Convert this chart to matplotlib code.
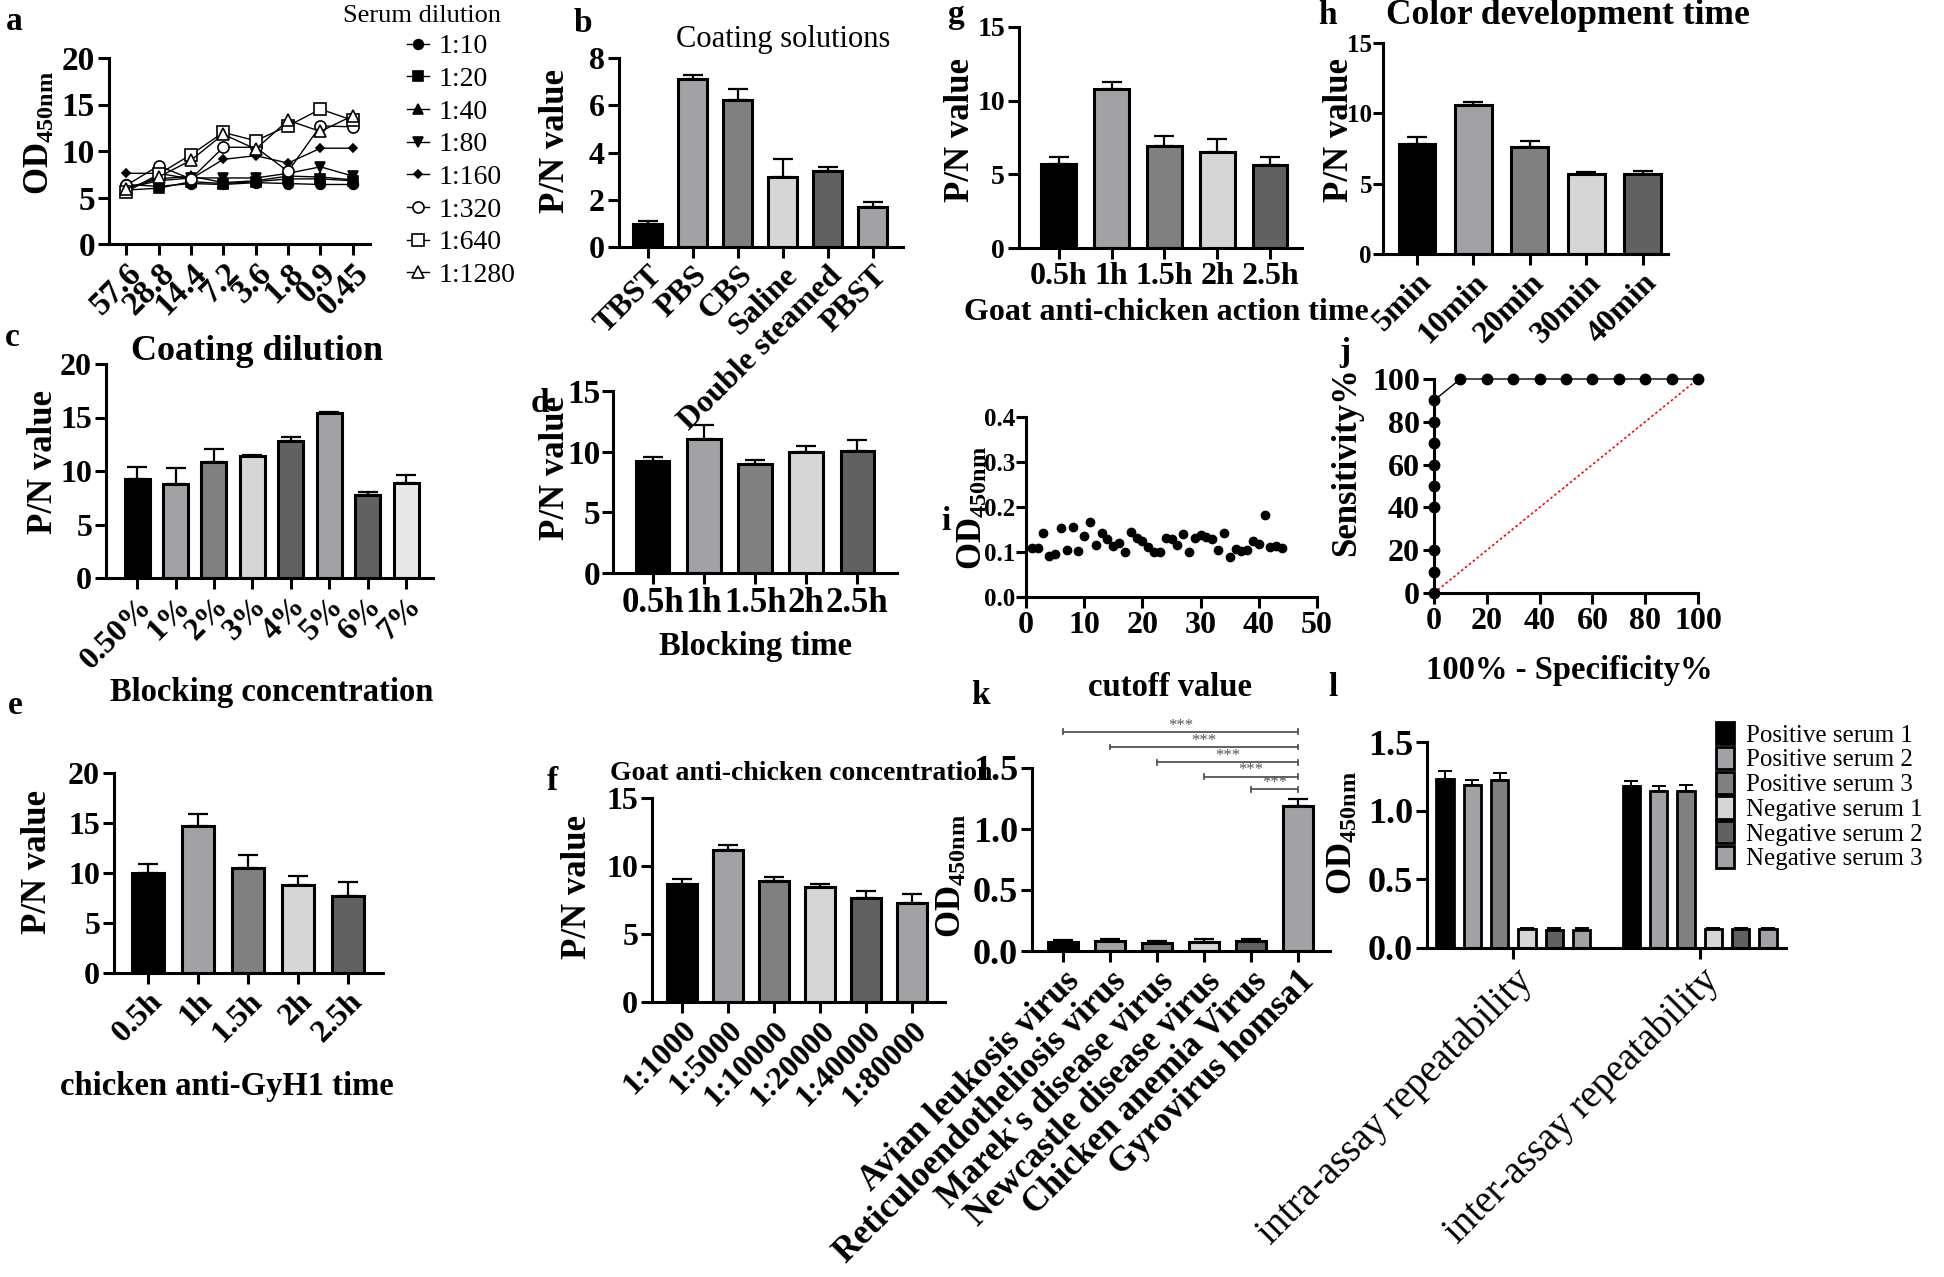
import numpy as np
import matplotlib
matplotlib.use('Agg')
import matplotlib.pyplot as plt

plt.rcParams['font.family'] = ['Liberation Serif', 'DejaVu Serif']
plt.rcParams['font.weight'] = 'bold'
plt.rcParams['mathtext.fontset'] = 'custom'
plt.rcParams['mathtext.rm'] = 'Liberation Serif:bold'
plt.rcParams['mathtext.it'] = 'Liberation Serif:bold'
plt.rcParams['mathtext.bf'] = 'Liberation Serif:bold'

# ---------------- data ----------------
a_x_labels = ['57.6', '28.8', '14.4', '7.2', '3.6', '1.8', '0.9', '0.45']
a_names = ['1:10', '1:20', '1:40', '1:80', '1:160', '1:320', '1:640', '1:1280']
a_1_10 = [6.4, 6.2, 6.5, 6.4, 6.6, 6.5, 6.4, 6.4]
a_1_20 = [5.8, 6.0, 6.7, 6.5, 6.7, 7.0, 7.0, 6.8]
a_1_40 = [6.0, 7.0, 7.3, 6.6, 6.8, 7.3, 7.2, 6.9]
a_1_80 = [6.0, 6.8, 7.1, 7.1, 7.1, 7.6, 8.3, 7.3]
a_1_160 = [7.6, 7.6, 7.0, 9.1, 9.5, 8.7, 10.3, 10.3]
a_1_320 = [6.3, 8.4, 7.0, 10.4, 10.4, 7.8, 12.7, 12.6]
a_1_640 = [5.6, 7.5, 9.6, 12.0, 11.1, 12.7, 14.5, 13.3]
a_1_1280 = [5.9, 7.2, 9.0, 11.8, 10.2, 13.3, 12.1, 13.8]

b_labels = ['TBST', 'PBS', 'CBS', 'Saline', 'Double steamed', 'PBST']
b_mean = [0.96, 7.12, 6.23, 2.95, 3.22, 1.70]
b_upper = [1.09, 7.27, 6.69, 3.71, 3.40, 1.90]

c_labels = ['0.50%', '1%', '2%', '3%', '4%', '5%', '6%', '7%']
c_mean = [9.25, 8.8, 10.85, 11.4, 12.85, 15.4, 7.8, 8.9]
c_upper = [10.4, 10.25, 12.1, 11.5, 13.15, 15.55, 8.0, 9.6]

d_labels = ['0.5h', '1h', '1.5h', '2h', '2.5h']
d_mean = [9.26, 11.07, 8.96, 9.97, 10.03]
d_upper = [9.6, 12.2, 9.34, 10.5, 11.0]

e_labels = ['0.5h', '1h', '1.5h', '2h', '2.5h']
e_mean = [10.0, 14.67, 10.5, 8.83, 7.73]
e_upper = [10.93, 15.93, 11.77, 9.67, 9.1]

f_labels = ['1:1000', '1:5000', '1:10000', '1:20000', '1:40000', '1:80000']
f_mean = [8.66, 11.14, 8.93, 8.43, 7.65, 7.3]
f_upper = [9.03, 11.53, 9.22, 8.68, 8.19, 7.94]

g_labels = ['0.5h', '1h', '1.5h', '2h', '2.5h']
g_mean = [5.7, 10.8, 6.9, 6.5, 5.6]
g_upper = [6.2, 11.3, 7.6, 7.4, 6.2]

h_labels = ['5min', '10min', '20min', '30min', '40min']
h_mean = [7.8, 10.6, 7.6, 5.7, 5.7]
h_upper = [8.3, 10.8, 8.0, 5.85, 5.9]

i_sample = list(range(1, 45))
i_od = [0.108, 0.108, 0.143, 0.092, 0.096, 0.153, 0.104, 0.155, 0.102, 0.135,
        0.167, 0.116, 0.143, 0.128, 0.113, 0.121, 0.101, 0.145, 0.131, 0.124,
        0.111, 0.101, 0.101, 0.131, 0.128, 0.116, 0.141, 0.099, 0.132, 0.138,
        0.133, 0.128, 0.104, 0.143, 0.090, 0.107, 0.102, 0.104, 0.124, 0.118,
        0.182, 0.111, 0.114, 0.110]

j_fpr = [0, 0, 0, 0, 0, 0, 0, 0, 0, 10, 20, 30, 40, 50, 60, 70, 80, 90, 100]
j_sens = [0, 10, 20, 40, 50, 60, 70, 80, 90, 100, 100, 100, 100, 100, 100, 100, 100, 100, 100]

k_labels = ['Avian leukosis virus', 'Reticuloendotheliosis virus', "Marek's disease virus",
            'Newcastle disease virus', 'Chicken anemia Virus', 'Gyrovirus homsa1']
k_mean = [0.071, 0.080, 0.066, 0.077, 0.085, 1.185]
k_upper = [0.088, 0.099, 0.082, 0.096, 0.101, 1.245]
k_sig_y = [1.796, 1.672, 1.546, 1.429, 1.327]

l_groups = ['intra-assay repeatability', 'inter-assay repeatability']
l_series = ['Positive serum 1', 'Positive serum 2', 'Positive serum 3',
            'Negative serum 1', 'Negative serum 2', 'Negative serum 3']
l_intra_mean = [1.233, 1.189, 1.223, 0.138, 0.133, 0.133]
l_intra_upper = [1.286, 1.226, 1.274, 0.146, 0.146, 0.146]
l_inter_mean = [1.177, 1.140, 1.140, 0.135, 0.135, 0.135]
l_inter_upper = [1.218, 1.180, 1.190, 0.142, 0.142, 0.142]

# ---------------- styles ----------------
BLK = '#000000'
G1 = '#a1a1a6'
G2 = '#808080'
G3 = '#d6d6d6'
G4 = '#616161'
G5 = '#e8e8e8'
pal6 = [BLK, G1, G2, G3, G4, G1]

W, H = 1944, 1277
fig = plt.figure(figsize=(W / 100, H / 100), dpi=100)


def ax_px(l, t, r, b):
    ax = fig.add_axes([l / W, 1 - b / H, (r - l) / W, (b - t) / H])
    ax.patch.set_visible(False)
    return ax


def ftext(x, y, s, size, weight='bold', rot=0, **kw):
    fig.text(x / W, 1 - y / H, s, ha=kw.pop('ha', 'center'), va=kw.pop('va', 'center'),
             fontsize=size, fontweight=weight, rotation=rot, **kw)


def style(ax, fs=23):
    for s in ['top', 'right']:
        ax.spines[s].set_visible(False)
    for s in ['left', 'bottom']:
        ax.spines[s].set_linewidth(2.2)
    ax.tick_params(axis='both', direction='out', length=8, width=2.2, labelsize=fs, pad=2)


def bars(ax, labels, mean, upper, colors, xlim, ylim, yticks, rot=True, width=0.65, fs=23):
    n = len(mean)
    x = np.arange(n)
    m = np.array(mean)
    u = np.array(upper)
    ax.errorbar(x, m, yerr=[np.zeros(n), u - m], fmt='none', ecolor='black',
                elinewidth=1.6, capsize=7, capthick=1.6, zorder=1)
    ax.bar(x, m, width=width, color=colors, edgecolor='black', linewidth=2.2, zorder=2)
    ax.set_xlim(*xlim)
    ax.set_ylim(*ylim)
    ax.set_yticks(yticks)
    ax.set_xticks(x)
    style(ax, fs)
    if rot:
        ax.set_xticklabels(labels, rotation=45, ha='right', va='top', rotation_mode='anchor')
    else:
        ax.set_xticklabels(labels)


OD = 'OD$_{\\mathrm{450nm}}$'

# ---------------- panel a ----------------
ax = ax_px(109, 58, 370, 244)
xa = np.arange(len(a_x_labels))
series = [a_1_10, a_1_20, a_1_40, a_1_80, a_1_160, a_1_320, a_1_640, a_1_1280]
mk = [('o', 7, 'black'), ('s', 7, 'black'), ('^', 7, 'black'), ('v', 7, 'black'),
      ('D', 4.5, 'black'), ('o', 8, 'white'), ('s', 8, 'white'), ('^', 8, 'white')]
handles = []
for s, (m, ms, fc), nm in zip(series, mk, a_names):
    ln, = ax.plot(xa, s, color='black', lw=1.0, marker=m, ms=ms, mfc=fc, mec='black',
                  mew=1.2, clip_on=False, label=nm)
    handles.append(ln)
ax.set_xlim(-0.53, 7.53)
ax.set_ylim(0, 20)
ax.set_yticks([0, 5, 10, 15, 20])
ax.set_xticks(xa)
style(ax, 24)
ax.set_xticklabels(a_x_labels, rotation=45, ha='right', va='top', rotation_mode='anchor')
fig.legend(handles, a_names, loc='upper left', bbox_to_anchor=(407 / W, 1 - 34 / H),
           frameon=False, prop={'family': 'Liberation Serif', 'weight': 'normal', 'size': 20},
           labelspacing=0.26, handlelength=0.8, handletextpad=0.35, borderpad=0, borderaxespad=0)
ftext(422, 16, 'Serum dilution', 19, weight='normal')
ftext(40, 133, OD, 25, rot=90)

# ---------------- panel b ----------------
ax = ax_px(619, 58, 903, 247)
bars(ax, b_labels, b_mean, b_upper, pal6, (-0.64, 5.67), (0, 8), [0, 2, 4, 6, 8])
ftext(783, 40, 'Coating solutions', 22, weight='normal')
ftext(555, 141, 'P/N value', 25, rot=90)

# ---------------- panel c ----------------
ax = ax_px(106, 364, 433, 578)
bars(ax, c_labels, c_mean, c_upper, [BLK, G1, G2, G3, G4, G1, G4, G5],
     (-0.81, 7.7), (0, 20), [0, 5, 10, 15, 20])
ftext(257, 352, 'Coating dilution', 26)
ftext(43, 462, 'P/N value', 25, rot=90)
ftext(272, 692, 'Blocking concentration', 23.5)

# ---------------- panel d ----------------
ax = ax_px(613, 391, 897, 573)
bars(ax, d_labels, d_mean, d_upper, [BLK, G1, G2, G3, G4], (-0.78, 4.78), (0, 15),
     [0, 5, 10, 15], rot=False, fs=25)
ax.tick_params(axis='y', labelsize=24, pad=1)
ftext(555, 468, 'P/N value', 25, rot=90)
ftext(755, 647, 'Blocking time', 23.5)

# ---------------- panel e ----------------
ax = ax_px(114, 773, 383, 973)
bars(ax, e_labels, e_mean, e_upper, [BLK, G1, G2, G3, G4], (-0.68, 4.7), (0, 20),
     [0, 5, 10, 15, 20])
ftext(38, 862, 'P/N value', 25, rot=90)
ftext(227, 1087, 'chicken anti-GyH1 time', 23.5)

# ---------------- panel f ----------------
ax = ax_px(652, 798, 945, 1002)
bars(ax, f_labels, f_mean, f_upper, pal6, (-0.65, 5.72), (0, 15), [0, 5, 10, 15])
ftext(801, 773, 'Goat anti-chicken concentration', 20)
ftext(577, 887, 'P/N value', 25, rot=90)

# ---------------- panel g ----------------
ax = ax_px(1019, 27, 1302, 248)
bars(ax, g_labels, g_mean, g_upper, [BLK, G1, G2, G3, G4], (-0.75, 4.6), (0, 15),
     [0, 5, 10, 15], rot=False)
ax.tick_params(axis='y', labelsize=20)
ftext(960, 130, 'P/N value', 25, rot=90)
ftext(1166, 312, 'Goat anti-chicken action time', 23)

# ---------------- panel h ----------------
ax = ax_px(1383, 43, 1668, 254)
bars(ax, h_labels, h_mean, h_upper, [BLK, G1, G2, G3, G4], (-0.6, 4.45), (0, 15),
     [0, 5, 10, 15])
ax.tick_params(axis='y', labelsize=18, pad=1, length=7)
ftext(1339, 130, 'P/N value', 25, rot=90)
ftext(1568, 15, 'Color development time', 25.5)

# ---------------- panel i ----------------
ax = ax_px(1026, 417, 1317, 597)
ax.plot(i_sample, i_od, 'o', color='black', ms=6, clip_on=False)
ax.set_xlim(0, 50)
ax.set_ylim(0, 0.4)
ax.set_xticks([0, 10, 20, 30, 40, 50])
ax.set_yticks([0, 0.1, 0.2, 0.3, 0.4])
ax.set_yticklabels(['0.0', '0.1', '0.2', '0.3', '0.4'])
style(ax, 23)
ax.tick_params(axis='y', labelsize=18, pad=1, length=7)
ftext(973, 508, OD, 25, rot=90)
ftext(1170, 688, 'cutoff value', 23.5)

# ---------------- panel j ----------------
ax = ax_px(1434, 379, 1698, 593)
ax.plot([0, 100], [0, 100], color='red', lw=1.2, ls=(0, (1.5, 1.5)), zorder=1)
ax.plot(j_fpr, j_sens, '-o', color='black', lw=1.0, ms=7.5, clip_on=False, zorder=3)
ax.set_xlim(0, 100)
ax.set_ylim(0, 100)
ax.set_xticks([0, 20, 40, 60, 80, 100])
ax.set_yticks([0, 20, 40, 60, 80, 100])
style(ax, 23)
ftext(1347, 462, 'Sensitivity%', 25, rot=90)
ftext(1569, 671, '100% - Specificity%', 23.5)

# ---------------- panel k ----------------
ax = ax_px(1032, 768, 1330, 951)
bars(ax, k_labels, k_mean, k_upper, pal6, (-0.66, 5.68), (0, 1.5),
     [0, 0.5, 1.0, 1.5], fs=25)
ax.set_yticklabels(['0.0', '0.5', '1.0', '1.5'])
ax.tick_params(axis='y', labelsize=26)
for idx, yy in enumerate(k_sig_y):
    ax.plot([idx, 5], [yy, yy], color='#555555', lw=1.3, clip_on=False)
    for xe in (idx, 5):
        ax.plot([xe, xe], [yy - 0.02, yy + 0.02], color='#555555', lw=1.3, clip_on=False)
    ax.text((idx + 5) / 2, yy - 0.015, '***', ha='center', va='bottom', fontsize=12,
            fontweight='normal', color='#555555', clip_on=False)
ftext(952, 876, OD, 25, rot=90)

# ---------------- panel l ----------------
ax = ax_px(1427, 742, 1786, 948)
gc = np.array([0.0, 6.83])
for k in range(6):
    xs = gc + (k - 2.5)
    ms_ = np.array([l_intra_mean[k], l_inter_mean[k]])
    us_ = np.array([l_intra_upper[k], l_inter_upper[k]])
    ax.errorbar(xs, ms_, yerr=[np.zeros(2), us_ - ms_], fmt='none', ecolor='black',
                elinewidth=1.4, capsize=5, capthick=1.4, zorder=1)
    ax.bar(xs, ms_, width=0.63, color=pal6[k], edgecolor='black', linewidth=2.0,
           zorder=2, label=l_series[k])
ax.set_xlim(-3.16, 9.99)
ax.set_ylim(0, 1.5)
ax.set_yticks([0, 0.5, 1.0, 1.5])
ax.set_yticklabels(['0.0', '0.5', '1.0', '1.5'])
ax.set_xticks(gc)
style(ax, 26)
ax.set_xticklabels(l_groups, rotation=45, ha='right', va='top', rotation_mode='anchor',
                   fontweight='normal', fontsize=28)
ax.legend(loc='upper left', bbox_to_anchor=(1716 / W, 1 - 722 / H), bbox_transform=fig.transFigure,
          frameon=False, prop={'family': 'Liberation Serif', 'weight': 'normal', 'size': 18},
          labelspacing=0.0, handlelength=0.7, handleheight=1.0, handletextpad=0.5,
          borderpad=0, borderaxespad=0)
ftext(1343, 833, OD, 25, rot=90)

# ---------------- panel letters ----------------
for let, (x, y) in {'a': (14, 22), 'b': (583, 23), 'c': (12, 338), 'd': (540, 403),
                    'e': (15, 706), 'f': (552, 781), 'g': (955, 15), 'h': (1327, 15),
                    'i': (946, 521), 'j': (1345, 352), 'k': (980, 695),
                    'l': (1333, 688)}.items():
    ftext(x, y, let, 24)

fig.savefig('out.png', dpi=100)
